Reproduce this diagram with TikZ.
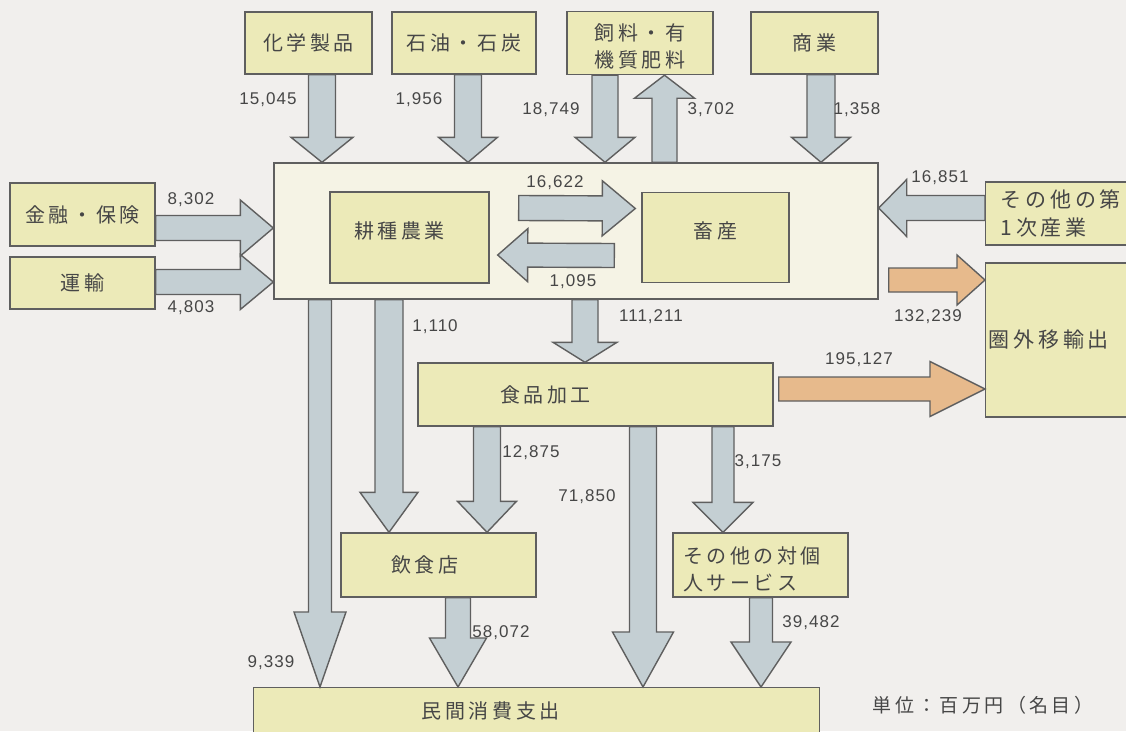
\documentclass[tikz,border=0pt]{standalone}
\usepackage{fontspec}
\setmainfont{Liberation Sans}
\newfontfamily\jpfont[LetterSpace=18]{Noto Sans CJK JP}
\newfontfamily\numfont[LetterSpace=6]{Liberation Sans}
\usetikzlibrary{calc}

\definecolor{bggray}{RGB}{241,239,237}
\definecolor{boxfill}{RGB}{236,234,184}
\definecolor{bigfill}{RGB}{245,243,229}
\definecolor{flowblue}{RGB}{196,207,211}
\definecolor{floworange}{RGB}{231,186,140}
\definecolor{edgegray}{RGB}{95,95,95}
\definecolor{inkgray}{RGB}{70,70,70}

\begin{document}
\begin{tikzpicture}[x=1pt,y=-1pt,line width=1.4pt,
    fshaft/.store in=\fshaft, fhead/.store in=\fhead, flen/.store in=\flen,
    fshaft=12.5pt, fhead=29pt, flen=28pt]

		\tikzstyle{every node}=[text=inkgray]
		\tikzstyle{box}=[draw=edgegray, fill=boxfill, inner sep=0pt, align=center,
		                 font=\jpfont\fontsize{20}{27}\selectfont]
		\tikzstyle{num}=[font=\numfont\fontsize{17}{20}\selectfont]
		\tikzstyle{flow}=[draw=edgegray, fill=flowblue, line join=miter,
		  to path={
		    -- ($(\tikztostart)!\fshaft!90:(\tikztotarget)$)
		    -- ($($(\tikztotarget)!\flen!(\tikztostart)$)!\fshaft!90:(\tikztotarget)$)
		    -- ($($(\tikztotarget)!\flen!(\tikztostart)$)!\fhead!90:(\tikztotarget)$)
		    -- (\tikztotarget)
		    -- ($($(\tikztotarget)!\flen!(\tikztostart)$)!\fhead!-90:(\tikztotarget)$)
		    -- ($($(\tikztotarget)!\flen!(\tikztostart)$)!\fshaft!-90:(\tikztotarget)$)
		    -- ($(\tikztostart)!\fshaft!-90:(\tikztotarget)$)
		    -- cycle}]

		\fill[bggray] (0,0) rectangle (1126,731);
		\useasboundingbox (0,0) rectangle (1126,731);

		% top row
		\node (chem) [box, minimum width=127, minimum height=62] at (308.5,43) {化学製品};
		\node (oil) [box, minimum width=144, minimum height=62, right of=chem, node distance=155.5pt] {石油・石炭};
		\node (feed) [box, minimum width=146, minimum height=63, text height=50pt, right of=oil, node distance=176pt] {飼料・有\\機質肥料};
		\node (comm) [box, minimum width=127, minimum height=62, right of=feed, node distance=174.5pt] {商業};

		% agriculture block
		\node (agri) [draw=edgegray, fill=bigfill, minimum width=604, minimum height=136] at (576,231) {};
		\node (crop) [box, minimum width=159, minimum height=91, text width=111, inner xsep=24, align=left,
		              text height=16pt, text depth=15pt] at (409.5,237.5) {耕種農業};
		\node (live) [box, minimum width=147, minimum height=90, text width=86, inner xsep=30.5, align=center,
		              text height=16pt, text depth=15pt, right of=crop, node distance=306pt] {畜産};

		\node (fin) [box, minimum width=145, minimum height=63] at (82.5,214.5) {金融・保険};
		\node (trans) [box, minimum width=145, minimum height=52, below of=fin, node distance=68.5pt] {運輸};
		\node (prim) [box, anchor=west, minimum height=63, text width=120, inner xsep=15, align=left,
		              font=\jpfont\fontsize{21}{28}\selectfont] at (985,213.5) {その他の第\\1次産業};
		\node (exp) [box, anchor=west, minimum height=154, text width=144, inner xsep=3, align=left,
		             font=\jpfont\fontsize{21}{28}\selectfont] at (985,340) {圏外移輸出};

		% lower part
		\node (food) [box, minimum height=63, text width=191, inner xsep=82, align=left] at (595.5,394.5) {食品加工};
		\node (rest) [box, minimum height=64, text width=95, inner xsep=50, align=left] at (438.5,565) {飲食店};
		\node (serv) [box, minimum height=64, text width=155, inner xsep=10, align=left, text height=26pt,
		              right of=rest, node distance=322pt] {その他の対個\\人サービス};
		\node (cons) [box, anchor=north west, minimum height=46, text width=230, inner xsep=168, align=left] at (253,687) {民間消費支出};

		\path[flow, fshaft=13.5pt, fhead=31pt, flen=25pt] (chem.south -| 322,0) to (agri.north -| 322,0);
		\path[flow, fshaft=13.5pt, fhead=29.5pt, flen=25pt] (oil.south -| 468,0) to (agri.north -| 468,0);
		\path[flow, fshaft=13pt, fhead=30pt, flen=25pt] (feed.south -| 605,0) to (agri.north -| 605,0);
		\path[flow, fshaft=12.5pt, fhead=30pt, flen=23pt] (agri.north -| 664.5,0) to (feed.south -| 664.5,0);
		\path[flow, fshaft=14pt, fhead=29.5pt, flen=25pt] (comm.south -| 821,0) to (agri.north -| 821,0);
		\path[flow, fhead=28pt, flen=33pt] (fin.east |- 0,228) to (agri.west |- 0,228);
		\path[flow, fhead=27.5pt, flen=33pt] (trans.east |- 0,282) to (agri.west |- 0,282);
		\path[flow, fhead=27.5pt, flen=33pt] ($(crop.east)+(29,-29.5)$) to ($(live.west)+(-6,-29)$);
		\path[flow, fshaft=12pt, fhead=26.5pt, flen=30pt] ($(live.west)+(-27,18)$) to ($(crop.east)+(8,17.5)$);
		\path[flow, fhead=28.5pt, flen=28pt] (prim.west |- 0,208) to (agri.east |- 0,208);
		\path[flow, fill=floworange, fshaft=12pt, fhead=25pt, flen=28pt] ($(agri.east |- 0,280)+(10,0)$) to (exp.west |- 0,280);
		\path[flow, fshaft=13pt, fhead=32pt, flen=20pt] (agri.south -| 585,0) to (food.north -| 585,0);
		\path[flow, fill=floworange, fshaft=12pt, fhead=27.5pt, flen=55pt] ($(food.east |- 0,389)+(5,0)$) to (exp.west |- 0,389);
		\path[flow, fshaft=11.5pt, fhead=26pt, flen=75pt] (agri.south -| 320,0) to (cons.north -| 320,0);
		\path[flow, fshaft=14pt, fhead=29pt, flen=40pt] (agri.south -| 389,0) to (rest.north -| 389,0);
		\path[flow, fshaft=13.5pt, fhead=29.5pt, flen=31pt] (food.south -| 487,0) to (rest.north -| 487,0);
		\path[flow, fshaft=13.5pt, fhead=30.5pt, flen=55pt] (food.south -| 643,0) to (cons.north -| 643,0);
		\path[flow, fshaft=11pt, fhead=30pt, flen=30pt] (food.south -| 723,0) to (serv.north -| 723,0);
		\path[flow, fshaft=12.5pt, fhead=28.5pt, flen=49pt] (rest.south -| 458,0) to (cons.north -| 458,0);
		\path[flow, fshaft=11.5pt, fhead=30pt, flen=45pt] (serv.south -| 761,0) to (cons.north -| 761,0);

		% values
		\node (v_chem) [num] at (268,100) {15,045};
		\node (v_oil) [num] at (419,100) {1,956};
		\node (v_feedin) [num] at (551,110) {18,749};
		\node (v_feedout) [num] at (711,110) {3,702};
		\node (v_comm) [num] at (857,110) {1,358};
		\node (v_fin) [num] at (191,200) {8,302};
		\node (v_trans) [num] at (191,308) {4,803};
		\node (v_ctol) [num] at (555,183) {16,622};
		\node (v_ltoc) [num] at (573,282) {1,095};
		\node (v_prim) [num] at (940,178) {16,851};
		\node (v_agexp) [num] at (928,317) {132,239};
		\node (v_food) [num] at (651,317) {111,211};
		\node (v_fdexp) [num] at (859,360) {195,127};
		\node (v_agcons) [num] at (271,663) {9,339};
		\node (v_agrest) [num] at (435,327) {1,110};
		\node (v_fdrest) [num] at (531,453) {12,875};
		\node (v_fdcons) [num] at (587,497) {71,850};
		\node (v_fdserv) [num] at (758,462) {3,175};
		\node (v_restcons) [num] at (501,633) {58,072};
		\node (v_servcons) [num] at (811,623) {39,482};

		\node (unit) [font=\jpfont\fontsize{19}{22}\selectfont] at (983,705) {単位：百万円（名目）};
\end{tikzpicture}
\end{document}
